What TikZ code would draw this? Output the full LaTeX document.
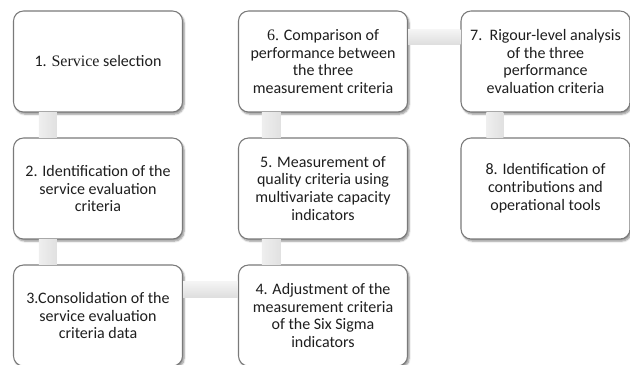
\documentclass[tikz,border=0pt]{standalone}
\usepackage{fontspec}
\setmainfont{Carlito}
\newfontfamily\serifpart{Liberation Serif}
\usetikzlibrary{calc,shadows.blur}

\definecolor{boxline}{HTML}{7A7A7A}
\definecolor{txt}{HTML}{1E1E1E}

\tikzset{
  stepbox/.style={
    draw=boxline, line width=0.8pt, fill=white, rounded corners=7.5pt,
    minimum width=126.75pt, minimum height=75.75pt, inner sep=0pt,
    align=center, text=txt, font=\fontsize{12pt}{13.4pt}\selectfont,
    blur shadow={shadow xshift=1.2pt, shadow yshift=-1.6pt,
                 shadow opacity=45, shadow blur steps=6,
                 shadow blur radius=1.4pt}
  },
  vlink/.style={left color=gray!13, right color=gray!24, draw=none},
  hlink/.style={top color=gray!8, bottom color=gray!26, draw=none}
}

\begin{document}
\begin{tikzpicture}[x=0.75pt, y=-0.75pt]
  \useasboundingbox (0,0) rectangle (630,364);

  % process steps, column by column
  \node[stepbox] (n1) at (98,61.5)    {1. {\serifpart Service} selection};
  \node[stepbox] (n2) at (98,188.5)   {2. Identification of the\\service evaluation\\criteria};
  \node[stepbox] (n3) at (98,315.5)   {3.Consolidation of the\\service evaluation\\criteria data};
  \node[stepbox] (n4) at (323,315.5)  {4. Adjustment of the\\measurement criteria\\of the Six Sigma\\indicators};
  \node[stepbox] (n5) at (323,188.5)  {5. Measurement of\\quality criteria using\\multivariate capacity\\indicators};
  \node[stepbox] (n6) at (323,61.5)   {{\serifpart 6.} Comparison of\\performance between\\the three\\measurement criteria};
  \node[stepbox] (n7) at (545.5,61.5) {7.\ \ Rigour-level analysis\\of the three\\performance\\evaluation criteria};
  \node[stepbox] (n8) at (545.5,188.5){8. Identification of\\contributions and\\operational tools};

  % links between consecutive steps
  \shade[vlink] ($(n1.south west)+(26,0)$) rectangle ($(n2.north west)+(44,0)$);
  \shade[vlink] ($(n2.south west)+(26,0)$) rectangle ($(n3.north west)+(44,0)$);
  \shade[hlink] ($(n3.north east)+(0,17)$) rectangle ($(n4.north west)+(0,33)$);
  \shade[vlink] ($(n5.south west)+(24,0)$) rectangle ($(n4.north west)+(43,0)$);
  \shade[vlink] ($(n6.south west)+(24,0)$) rectangle ($(n5.north west)+(43,0)$);
  \shade[hlink] ($(n6.north east)+(0,19)$) rectangle ($(n7.north west)+(0,34)$);
  \shade[vlink] ($(n7.south west)+(26,0)$) rectangle ($(n8.north west)+(43,0)$);
\end{tikzpicture}
\end{document}
